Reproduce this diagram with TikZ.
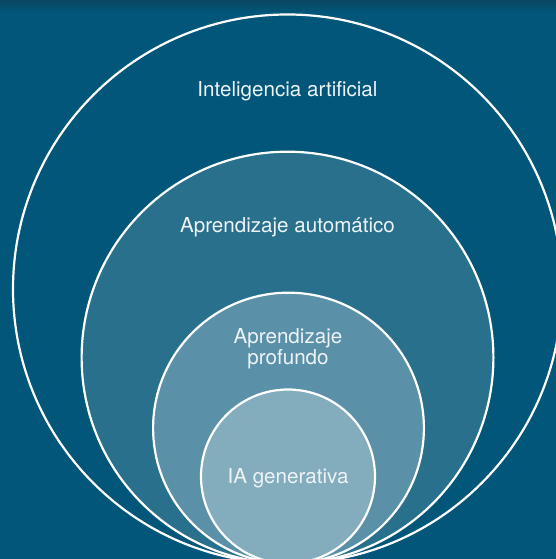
\documentclass[tikz,border=0pt]{standalone}
\usepackage{fontspec}
\setmainfont{TeX Gyre Heros}
\usepackage{xcolor}
\usepackage{tikz}

\definecolor{sfondo}{HTML}{01567A}
\definecolor{sfondoalto}{HTML}{0A4862}
\definecolor{livelloB}{HTML}{29708D}
\definecolor{livelloC}{HTML}{5A91A8}
\definecolor{livelloD}{HTML}{83ACBD}
\definecolor{testo}{HTML}{EEF3F6}

\tikzset{
    cerchio/.style={circle, draw=white, line width=2.2pt, inner sep=0pt},
    etichetta/.style={text=testo, font=\fontsize{20.6}{21.5}\selectfont, anchor=base, align=center}
}

\begin{document}
\begin{tikzpicture}[x=1pt,y=1pt]
            % Sfondo
            \useasboundingbox (0,0) rectangle (556,559);
            \fill[sfondo] (0,0) rectangle (556,559);
            \shade[top color=sfondoalto, bottom color=sfondo] (0,546) rectangle (556,559);
            \clip (0,0) rectangle (556,559);

            % Cerchi, tutti tangenti in basso
            \node[cerchio, fill=sfondo, minimum size=549pt] (ia) at (287.5,270) {};
            \node[cerchio, fill=livelloB, minimum size=411.8pt] (ml) at (287.5,201.4) {};
            \node[cerchio, fill=livelloC, minimum size=270.8pt] (dl) at (288.5,130.9) {};
            \node[cerchio, fill=livelloD, minimum size=174pt] (gen) at (288,82.5) {};

            % Etichette
            \node[etichetta] (tia) at (287.5,462) {Inteligencia artificial};
            \node[etichetta] (tml) at (287.5,326) {Aprendizaje automático};
            \node[etichetta, anchor=center] (tdl) at (288,210.5) {Aprendizaje\\profundo};
            \node[etichetta] (tgen) at (288,75) {IA generativa};
        \end{tikzpicture}
\end{document}
